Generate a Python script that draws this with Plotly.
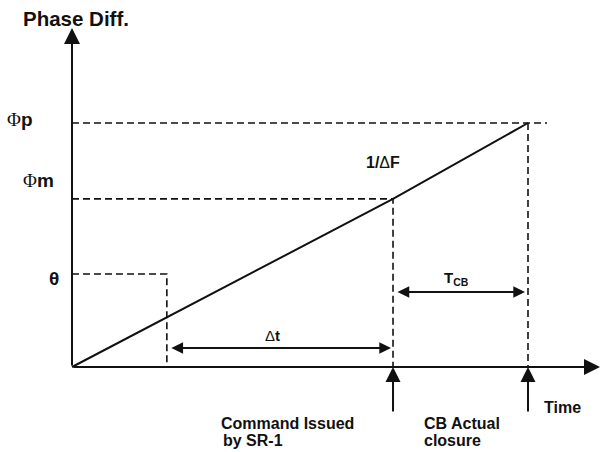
import plotly.graph_objects as go

# ---------------- data (diagram values) ----------------
# event times: θ reached, command issued by SR-1, CB actual closure
event_times = [20.8, 70.4, 100.0]
# phase-difference levels: θ, Φm, Φp
phase_levels = [38.1, 68.9, 100.0]
phase_names = ["θ", "Φm", "Φp"]
# phase-slip line (slope 1/ΔF)
slip_time = [0.0, 70.4, 100.0]
slip_phase = [0.0, 68.9, 100.0]

t_theta, t_cmd, t_close = event_times
ph_theta, ph_m, ph_p = phase_levels

# ---------------- scales (pixel layout) ----------------
W, H = 608, 452
X0, Y0 = 72, 367          # origin pixel
SX, SY = 4.56, 2.44       # px per unit
x_range = [-X0 / SX, (W - X0) / SX]
y_range = [(Y0 - H) / SY, Y0 / SY]

x_axis_end = (600 - X0) / SX
y_axis_end = (Y0 - 28) / SY
phip_dash_end = (547 - X0) / SX
dt_y = (Y0 - 348) / SY
tcb_y = (Y0 - 292) / SY
up_arrow_bottom = (Y0 - 413) / SY

BLACK = "#111111"
DASH = "7px,4px"
FONT = "Liberation Sans, Arial, sans-serif"

fig = go.Figure()

def seg(xs, ys, dash=None, width=1.6):
    fig.add_trace(go.Scatter(x=xs, y=ys, mode="lines", hoverinfo="skip",
                             line=dict(color=BLACK, width=width, dash=dash),
                             showlegend=False))

# dashed guide lines
seg([0, t_theta, t_theta], [ph_theta, ph_theta, 0], DASH)
seg([0, t_cmd, t_cmd], [ph_m, ph_m, 0], DASH)
seg([0, phip_dash_end], [ph_p, ph_p], DASH)
seg([t_close, t_close], [ph_p, 0], DASH)

# phase slip line
seg(slip_time, slip_phase, None, 2)

anns = []

def arrow(x, y, ax, ay, width=2, size=1.5, both=False, standoff=0, startstandoff=0):
    anns.append(dict(x=x, y=y, ax=ax, ay=ay, xref="x", yref="y", axref="x", ayref="y",
                     text="", showarrow=True, arrowhead=2, arrowsize=size,
                     arrowwidth=width, arrowcolor=BLACK,
                     arrowside="end+start" if both else "end",
                     startarrowhead=2, startarrowsize=size,
                     standoff=standoff, startstandoff=startstandoff))

# axes
arrow(0, y_axis_end, 0, 0, width=2, size=1.6)
arrow(x_axis_end, 0, 0, 0, width=2, size=1.6)
# Δt and T_CB dimension arrows
arrow(t_cmd, dt_y, t_theta, dt_y, width=1.8, size=1.3, both=True, standoff=2, startstandoff=3)
arrow(t_close, tcb_y, t_cmd, tcb_y, width=1.8, size=1.3, both=True, standoff=3, startstandoff=3)
# event arrows below time axis
arrow(t_cmd, 0, t_cmd, up_arrow_bottom, width=2, size=1.5)
arrow(t_close, 0, t_close, up_arrow_bottom, width=2, size=1.5)

def text(x, y, s, size=15, xanchor="center", xshift=0, yshift=0):
    anns.append(dict(x=x, y=y, xref="x", yref="y", text=s, showarrow=False,
                     xanchor=xanchor, yanchor="middle", xshift=xshift, yshift=yshift,
                     font=dict(family=FONT, size=size, color=BLACK)))

PHI = "<span style='font-family:Liberation Serif;font-weight:normal'>Φ</span>"
text(0, y_axis_end, "<b>Phase Diff.</b>", size=20.5, xshift=4, yshift=10)
text(0, ph_p, PHI + "<b>p</b>", size=19, xshift=-52, yshift=4)
text(0, ph_m, PHI + "<b>m</b>", size=19, xshift=-34, yshift=18)
text(0, ph_theta, "<b>θ</b>", size=19, xshift=-18, yshift=-4)
text((t_cmd + t_close) / 2, (ph_m + ph_p) / 2, "<b>1/</b>Δ<b>F</b>", size=16, xshift=-78, yshift=-2)
text((t_theta + t_cmd) / 2, dt_y, "Δ<b>t</b>", size=15, xshift=-7, yshift=13)
text((t_cmd + t_close) / 2, tcb_y, "<b>T<sub>CB</sub></b>", size=15, xshift=-4, yshift=14)
text(t_cmd, up_arrow_bottom, "<b>Command Issued</b>", size=16, xanchor="right", xshift=-37, yshift=-10)
text(t_cmd, up_arrow_bottom, "<b>by SR-1</b>", size=16, xanchor="left", xshift=-172, yshift=-27)
text(t_close, up_arrow_bottom, "<b>CB Actual</b>", size=16, xanchor="left", xshift=-106, yshift=-10)
text(t_close, up_arrow_bottom, "<b>closure</b>", size=16, xanchor="left", xshift=-106, yshift=-27)
text(t_close, up_arrow_bottom, "<b>Time</b>", size=16, xanchor="left", xshift=14, yshift=6)

fig.update_layout(
    width=W, height=H, margin=dict(l=0, r=0, t=0, b=0),
    paper_bgcolor="white", plot_bgcolor="white",
    xaxis=dict(range=x_range, visible=False, fixedrange=True),
    yaxis=dict(range=y_range, visible=False, fixedrange=True),
    annotations=anns, showlegend=False,
    font=dict(family=FONT, color=BLACK),
)

fig.write_html("out.html", config={"displayModeBar": False},
               post_script="document.body.style.margin='0';document.body.style.overflow='hidden';")
